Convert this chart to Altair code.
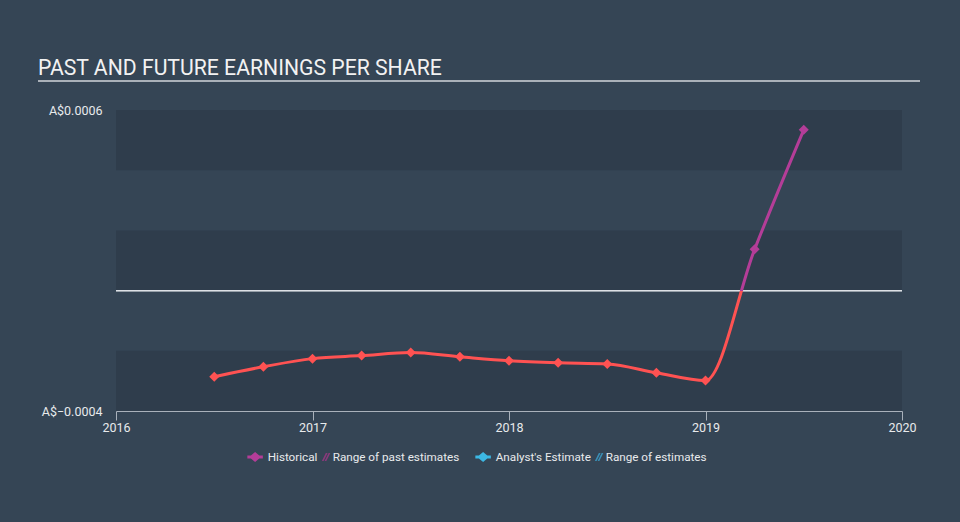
import altair as alt
import pandas as pd

# ---- data ----
quarters = [2016.5, 2016.75, 2017.0, 2017.25, 2017.5, 2017.75, 2018.0,
            2018.25, 2018.5, 2018.75, 2019.0, 2019.25, 2019.5]
eps = [-0.000286, -0.000253, -0.000226, -0.000216, -0.000206, -0.000220,
       -0.000233, -0.000240, -0.000244, -0.000273, -0.000299, 0.000137, 0.000534]

year_ticks = [2016, 2017, 2018, 2019, 2020]
y_ticks = [-0.0004, 0.0006]
band_lo = [-0.0004, 0.0, 0.0004]
band_hi = [-0.0002, 0.0002, 0.0006]

legend_past = ["Historical", "Range of past estimates"]
legend_future = ["Analyst's Estimate", "Range of estimates"]

# ---- styles ----
BG = "#354555"
BAND = "#2f3d4c"
RED = "#ff5252"
PURPLE = "#b43d98"
BLUE = "#3cb8e4"
PURPLE_DIM = "#8a3a7c"
BLUE_DIM = "#3a8fb5"
AXIS = "#a9b1bb"
TEXT = "#e8eaec"
FONT = "Roboto"

W, H = 786, 301

df = pd.DataFrame({"q": quarters, "eps": eps})
bands = pd.DataFrame({"lo": band_lo, "hi": band_hi})
leg_a = pd.DataFrame({"past": legend_past, "v": [None] * len(legend_past)})
leg_b = pd.DataFrame({"future": legend_future, "v": [None] * len(legend_future)})

xscale = alt.Scale(domain=[2016, 2020], nice=False, zero=False)
yscale = alt.Scale(domain=[-0.0004, 0.0006], nice=False, zero=False)

x_axis = alt.Axis(values=year_ticks, format="d", title=None, grid=False, labelFlush=False,
                  domainColor=AXIS, tickColor=AXIS, tickSize=9, labelPadding=1,
                  labelColor=TEXT, labelFontSize=12.5, labelFont=FONT)
y_axis = alt.Axis(values=y_ticks, title=None, grid=False, domain=False, ticks=False,
                  labelPadding=14, labelColor=TEXT, labelFontSize=12.5, labelFont=FONT,
                  labelExpr="'A$' + format(datum.value, '.4f')")

band_layer = alt.Chart(bands).mark_rect(color=BAND).encode(
    x=alt.datum(2016, scale=xscale),
    x2=alt.datum(2020),
    y=alt.Y("lo:Q", scale=yscale, axis=y_axis),
    y2="hi:Q",
)

zero_rule = alt.Chart(bands).mark_rule(color="#dde1e6", strokeWidth=1.2).encode(
    y=alt.datum(0)
)

# fraction of the line's vertical extent that lies above zero
top, bot = max(eps), min(eps)
frac = top / (top - bot)

line = alt.Chart(df).mark_line(
    interpolate="monotone", strokeWidth=3,
    stroke=alt.Gradient(
        gradient="linear", x1=0, x2=0, y1=0, y2=1,
        stops=[alt.GradientStop(offset=0, color=PURPLE),
               alt.GradientStop(offset=frac, color=PURPLE),
               alt.GradientStop(offset=frac, color=RED),
               alt.GradientStop(offset=1, color=RED)],
    ),
).encode(
    x=alt.X("q:Q", scale=xscale, axis=x_axis),
    y=alt.Y("eps:Q", scale=yscale),
)

points = alt.Chart(df).mark_point(shape="diamond", filled=True, size=100, opacity=1).encode(
    x=alt.X("q:Q", scale=xscale),
    y=alt.Y("eps:Q", scale=yscale),
    color=alt.condition("datum.eps > 0", alt.value(PURPLE), alt.value(RED)),
)

# legend symbol glyphs (unit = 5 px)
marker_path = "M-2.3,-0.3L0.8,-0.3L0.8,0.3L-2.3,0.3Z M-0.75,-1.0L0.45,0L-0.75,1.0L-1.95,0Z"
hatch_path = "M-0.4,0.8L-0.05,0.8L0.75,-0.8L0.4,-0.8Z M0.15,0.8L0.5,0.8L1.3,-0.8L0.95,-0.8Z"

LEG_Y = 341


def legend_layer(frame, field, labels, colors, lx):
    return alt.Chart(frame).mark_point(filled=True, opacity=1).encode(
        x=alt.X("v:Q", scale=xscale),
        y=alt.Y("v:Q", scale=yscale),
        color=alt.Color(f"{field}:N",
                        scale=alt.Scale(domain=labels, range=colors),
                        legend=alt.Legend(orient="none", legendX=lx, legendY=LEG_Y,
                                          direction="horizontal", title=None,
                                          labelColor=TEXT, labelFontSize=11.7, labelFont=FONT,
                                          symbolSize=100, labelOffset=3, columnPadding=-2,
                                          symbolStrokeWidth=0)),
        shape=alt.Shape(f"{field}:N",
                        scale=alt.Scale(domain=labels, range=[marker_path, hatch_path]),
                        legend=None),
    )


leg_past = legend_layer(leg_a, "past", legend_past, [PURPLE, PURPLE_DIM], 137)
leg_future = legend_layer(leg_b, "future", legend_future, [BLUE, BLUE_DIM], 365)

underline = alt.Chart(bands).mark_rule(color="#aab1b9", strokeWidth=2, clip=False).encode(
    x=alt.value(-78), x2=alt.value(804), y=alt.value(-29)
)

chart = alt.layer(band_layer, zero_rule, line, points, leg_past, leg_future, underline).resolve_scale(
    color="independent", shape="independent"
).properties(
    width=W, height=H,
    title=alt.TitleParams("PAST AND FUTURE EARNINGS PER SHARE", anchor="start", frame="group",
                          dx=-78, offset=1, fontSize=21.2, font=FONT, fontWeight="normal",
                          color="#f2f2f2"),
    background=BG,
    autosize=alt.AutoSizeParams(type="none"),
    padding={"left": 116, "top": 110, "right": 58, "bottom": 111},
).configure_view(stroke=None)

chart.save("out.html", embed_options={"renderer": "svg", "actions": False})
